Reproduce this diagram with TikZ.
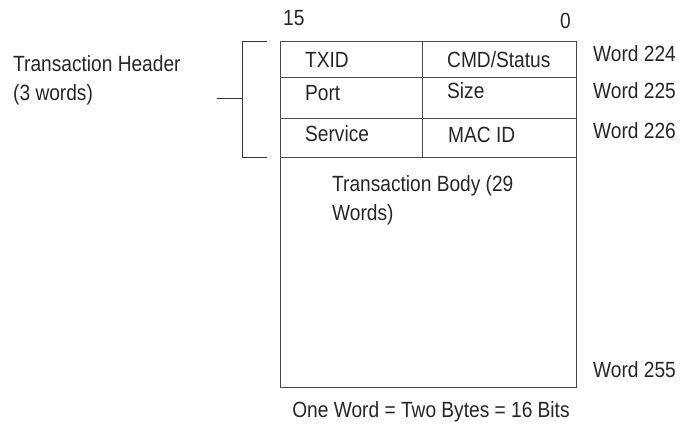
\documentclass[tikz,border=0pt]{standalone}
\usepackage{fontspec}
\setmainfont{Liberation Sans}[FakeStretch=0.87]
\begin{document}
\begin{tikzpicture}[x=1pt,y=-1pt,
  lbl/.style={anchor=base west,inner sep=0pt,font=\fontsize{22}{28}\selectfont,text=black!85},
  frame/.style={draw=black!70,line width=1pt},
  brk/.style={draw=black!80,line width=1pt}]
\useasboundingbox (0,0) rectangle (680,428);
% record frame
\coordinate (tl) at (280,42);
\coordinate (br) at (576,387);
\draw[frame] (tl) rectangle (br);
\coordinate (d1) at (422,42);
\coordinate (d2) at (422,157);
\draw[frame] (d1) -- (d2);
\coordinate (r1a) at (280,78);  \coordinate (r1b) at (576,78);
\coordinate (r2a) at (280,118); \coordinate (r2b) at (576,118);
\coordinate (r3a) at (280,157); \coordinate (r3b) at (576,157);
\draw[frame] (r1a) -- (r1b) (r2a) -- (r2b) (r3a) -- (r3b);
% bracket
\coordinate (b1) at (267,42);
\coordinate (b2) at (242,42);
\coordinate (b3) at (242,157);
\coordinate (b4) at (267,157);
\coordinate (s1) at (217,98);
\coordinate (s2) at (242,98);
\draw[brk] (b1) -- (b2) -- (b3) -- (b4);
\draw[brk] (s1) -- (s2);
% texts
\node[lbl] (n15) at (283,26) {15};
\node[lbl] (n0) at (560,29) {0};
\node[lbl] (th1) at (13,72) {Transaction Header};
\node[lbl] (th2) at (13,100) {(3 words)};
\node[lbl] (txid) at (305,67) {TXID};
\node[lbl] (cmd) at (447,67) {CMD/Status};
\node[lbl] (port) at (305,100) {Port};
\node[lbl] (size) at (447,99) {Size};
\node[lbl] (serv) at (305,141) {Service};
\node[lbl] (mac) at (448,142) {MAC ID};
\node[lbl] (w224) at (593,62) {Word 224};
\node[lbl] (w225) at (593,98) {Word 225};
\node[lbl] (w226) at (593,138) {Word 226};
\node[lbl] (tb1) at (332,191) {Transaction Body (29};
\node[lbl] (tb2) at (332,220) {Words)};
\node[lbl] (w255) at (593,377) {Word 255};
\node[lbl,anchor=base] (foot) at (431,417) {One Word = Two Bytes = 16 Bits};
\end{tikzpicture}
\end{document}
